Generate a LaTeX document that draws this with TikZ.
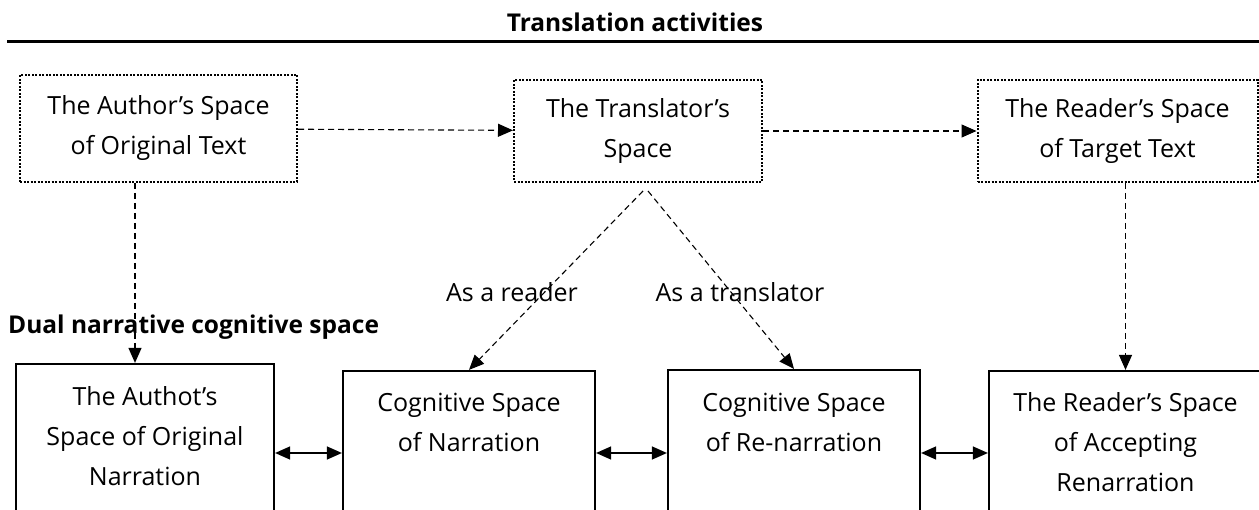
\documentclass[tikz,border=0pt]{standalone}
\usepackage{fontspec}
\setmainfont{Open Sans}
\usetikzlibrary{arrows.meta,positioning}
\tikzset{
  spacetext/.style = {align=center, inner sep=0pt, text centered,
    font=\fontsize{25}{40}\selectfont},% texte des espaces
  dotbox/.style = {spacetext, rectangle, draw=black, line width=2pt,
    dash pattern=on 2pt off 1.5pt},% espace de traduction, pointille
  solidbox/.style = {rectangle, draw=black, line width=2.2pt, inner sep=0pt},% espace narratif
  heading/.style = {inner sep=0pt, font=\fontsize{24.5}{28}\selectfont\bfseries},
  dashlink/.style = {dash pattern=on 6pt off 4pt, line width=1.1pt,
    -{Triangle[length=15pt,width=13pt]}},
  bothlink/.style = {line width=1.3pt,
    {Triangle[length=15pt,width=13pt]}-{Triangle[length=15pt,width=13pt]}}
}

\begin{document}
\begin{tikzpicture}[x=1pt,y=-1pt]
\useasboundingbox (0,0) rectangle (1259,510);
% titre et filet
\node[heading] (title) at (635,22) {Translation activities};
\coordinate (ruleL) at (7,41.5);
\coordinate (ruleR) at (1259,41.5);
\draw[line width=2.2pt] (ruleL) -- (ruleR);

% espaces de traduction
\node[dotbox, minimum width=277pt, minimum height=107pt] (author) at (158.5,128.5)
  {The Author's Space\\of Original Text};
\node[dotbox, minimum width=248pt, minimum height=102pt] (transl) at (638,131)
  {The Translator's\\Space};
\node[dotbox, minimum width=280pt, minimum height=102pt] (reader) at (1117.5,131)
  {The Reader's Space\\of Target Text};

% espace cognitif narratif double
\node[heading, anchor=west] (dual) at (8,327) {Dual narrative cognitive space};
\node[solidbox, minimum width=258pt, minimum height=178pt] (orig) at (145,453) {};
\node[solidbox, minimum width=252pt, minimum height=164pt] (narr) at (469,453) {};
\node[solidbox, minimum width=252pt, minimum height=166pt] (renarr) at (794,453) {};
\node[solidbox, minimum width=273pt, minimum height=164pt] (accept) at (1125.5,453) {};
\node[spacetext] (origtxt) at ([yshift=-73pt]orig.north)
  {The Authot's\\Space of Original\\Narration};
\node[spacetext] (narrtxt) at ([yshift=-53pt]narr.north)
  {Cognitive Space\\of Narration};
\node[spacetext] (renarrtxt) at ([yshift=-54pt]renarr.north)
  {Cognitive Space\\of Re-narration};
\node[spacetext] (accepttxt) at ([yshift=-72pt]accept.north)
  {The Reader's Space\\of Accepting\\Renarration};

% liens
\draw[dashlink] (author) -- (transl);
\draw[dashlink] (transl) -- (reader);
\draw[dashlink] (author.south -| orig.north) ++(-10pt,0) coordinate (down) -- (down |- orig.north);
\draw[dashlink] (reader.south) ++(8pt,0) coordinate (rdown) -- (rdown |- accept.north);
\draw[dashlink] ([xshift=5pt,yshift=-8pt]transl.south) -- (narr.north);
\draw[dashlink] ([xshift=10pt,yshift=-8pt]transl.south) -- (renarr.north);
\node[spacetext] (asreader) at (512,292) {As a reader};
\node[spacetext] (astransl) at (740,292) {As a translator};
\draw[bothlink] (orig.east) -- (narr.west);
\draw[bothlink] (narr.east) -- (renarr.west);
\draw[bothlink] (renarr.east) -- (accept.west);
\end{tikzpicture}
\end{document}
